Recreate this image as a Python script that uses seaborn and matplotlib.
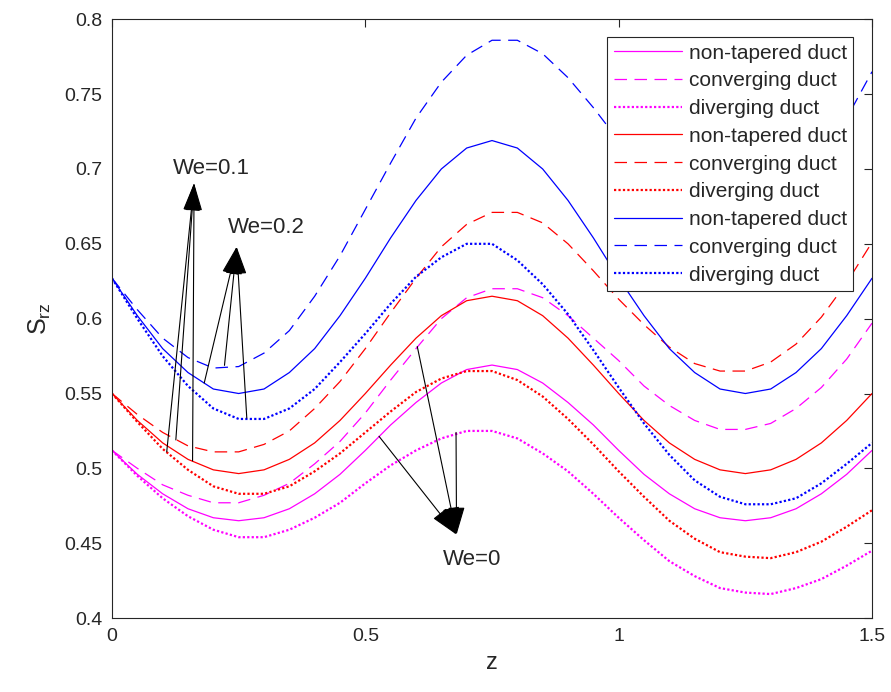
import numpy as np
import matplotlib
matplotlib.use('Agg')
import matplotlib.pyplot as plt
import seaborn as sns
from matplotlib.ticker import FormatStrFormatter

# z grid and values
z = np.linspace(0, 1.5, 31)

mag_nt = [.512, .496, .483, .473, .467, .465, .467, .473, .483, .496, .512, .529, .544, .557, .566, .569,
          .566, .557, .544, .529, .512, .496, .483, .473, .467, .465, .467, .473, .483, .496, .512]
mag_cv = [.512, .500, .489, .482, .477, .477, .482, .490, .503, .518, .537, .559, .580, .600, .614, .620,
          .620, .614, .602, .587, .572, .555, .542, .532, .526, .526, .530, .540, .554, .573, .597]
mag_dv = [.512, .495, .480, .468, .459, .454, .454, .459, .467, .477, .490, .502, .512, .520, .525, .525,
          .520, .510, .498, .483, .467, .452, .438, .428, .420, .417, .416, .420, .426, .435, .445]

red_nt = [.550, .532, .517, .506, .499, .4965, .499, .506, .517, .532, .550, .569, .587, .602, .612, .615,
          .612, .602, .587, .569, .550, .532, .517, .506, .499, .4965, .499, .506, .517, .532, .550]
red_cv = [.550, .536, .524, .515, .511, .511, .516, .525, .540, .558, .580, .604, .627, .648, .663, .671,
          .671, .664, .650, .632, .613, .596, .581, .570, .565, .565, .571, .583, .601, .624, .651]
red_dv = [.550, .531, .513, .499, .488, .483, .483, .488, .498, .510, .524, .538, .551, .560, .565, .565,
          .559, .548, .533, .516, .498, .481, .465, .453, .444, .441, .440, .444, .451, .461, .472]

blue_nt = [.627, .602, .580, .564, .553, .550, .553, .564, .580, .602, .627, .654, .679, .700, .714, .719,
           .714, .700, .679, .654, .627, .602, .580, .564, .553, .550, .553, .564, .580, .602, .627]
blue_cv = [.627, .606, .587, .574, .567, .568, .577, .592, .615, .642, .673, .704, .734, .758, .776, .786,
           .786, .777, .761, .741, .719, .698, .679, .666, .659, .660, .669, .684, .707, .734, .765]
blue_dv = [.627, .600, .575, .555, .540, .533, .533, .540, .553, .571, .590, .610, .628, .641, .650, .650,
           .639, .623, .603, .579, .554, .530, .509, .492, .481, .476, .476, .480, .490, .503, .517]

labels = ['non-tapered duct', 'converging duct', 'diverging duct']
series = [(mag_nt, mag_cv, mag_dv, '#ff00ff'),
          (red_nt, red_cv, red_dv, '#ff0000'),
          (blue_nt, blue_cv, blue_dv, '#0000ff')]

# annotation arrows: (tail points), tip, text position
ann = [('We=0.1', [(.108, .511), (.126, .519), (.159, .505)], (.162, .6905), (.120, .700)),
       ('We=0.2', [(.182, .557), (.222, .5688), (.266, .5336)], (.246, .648), (.229, .661)),
       ('We=0', [(.527, .5214), (.6025, .5814), (.679, .524)], (.680, .4557), (.653, .439))]

sns.set_theme(style='white')
plt.rcParams['font.family'] = ['Liberation Sans', 'DejaVu Sans']
plt.rcParams['mathtext.fontset'] = 'custom'
plt.rcParams['mathtext.rm'] = 'Liberation Sans'
plt.rcParams['mathtext.it'] = 'Liberation Sans'

fig = plt.figure(figsize=(8.91, 6.92), dpi=100)
ax = fig.add_axes([0.1257, 0.1069, 0.8530, 0.8652])

dash = (0, (10, 6))
dot = (0, (1, 1))
for nt, cv, dv, col in series:
    sns.lineplot(x=z, y=nt, color=col, lw=0.9, linestyle='-', label=labels[0], ax=ax, sort=False, estimator=None)
    sns.lineplot(x=z, y=cv, color=col, lw=0.9, linestyle=dash, label=labels[1], ax=ax, sort=False, estimator=None)
    sns.lineplot(x=z, y=dv, color=col, lw=1.6, linestyle=dot, label=labels[2], ax=ax, sort=False, estimator=None)

for txt, tails, tip, pos in ann:
    for t in tails:
        ax.annotate('', xy=tip, xytext=t,
                    arrowprops=dict(arrowstyle='-|>,head_length=0.8,head_width=0.24', mutation_scale=22,
                                    color='black', lw=0.8, shrinkA=0, shrinkB=0))
    ax.text(pos[0], pos[1], txt, fontsize=16, ha='left', va='center')

ax.set_xlim(0, 1.5)
ax.set_ylim(0.4, 0.8)
ax.set_xticks([0, 0.5, 1, 1.5])
ax.set_yticks(np.arange(0.4, 0.8001, 0.05))
ax.xaxis.set_major_formatter(FormatStrFormatter('%g'))
ax.yaxis.set_major_formatter(FormatStrFormatter('%g'))
ax.tick_params(direction='in', top=True, right=True, length=6, width=0.8,
               color='#262626', labelcolor='#262626', labelsize=14, pad=7)
for s in ax.spines.values():
    s.set_color('#262626')
    s.set_linewidth(0.8)

ax.set_xlabel('z', fontsize=17, color='#262626', labelpad=5)
ax.set_ylabel(r'S$_{\rm rz}$', fontsize=18, color='#262626', labelpad=8)

leg = ax.legend(loc='upper right', bbox_to_anchor=(0.975, 0.970), borderaxespad=0,
                fontsize=15, handlelength=3.3, handletextpad=0.3, labelspacing=0.42,
                frameon=True, fancybox=False, framealpha=1, borderpad=0.3)
leg.get_frame().set_edgecolor('#262626')
leg.get_frame().set_linewidth(0.8)

fig.savefig('out.png', dpi=100)
